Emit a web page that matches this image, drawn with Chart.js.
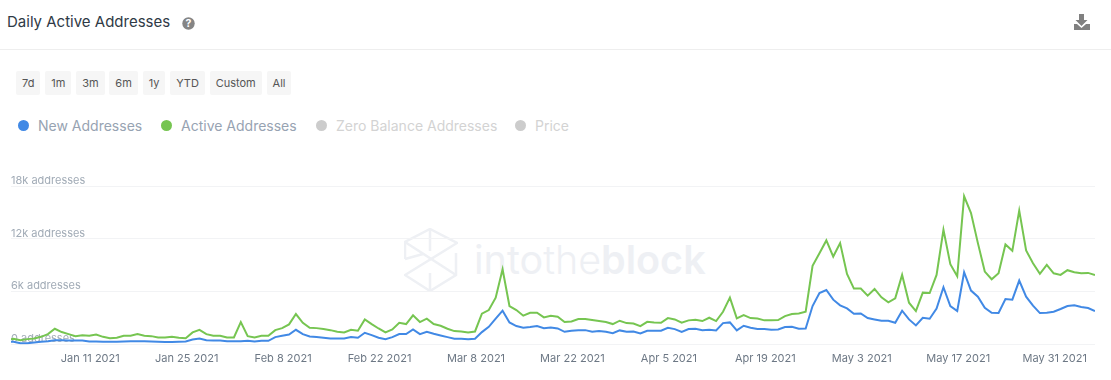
<!DOCTYPE html>
<html>
<head>
<meta charset="utf-8">
<title>Daily Active Addresses</title>
<script src="https://cdn.jsdelivr.net/npm/chart.js@4"></script>
<style>
    html, body { margin: 0; padding: 0; background: #fff; }
    body { width: 1111px; height: 380px; position: relative; overflow: hidden; font-family: Inter, sans-serif; }
    .title { position: absolute; left: 7px; top: 13px; font-size: 15px; line-height: 18px; color: #2f3a46; }
    .help { position: absolute; left: 182px; top: 17px; }
    .download { position: absolute; left: 1073px; top: 13px; }
    .divider { position: absolute; left: 0; right: 0; top: 49px; height: 1px; background: #eeeeee; }
    .ranges { position: absolute; left: 16px; top: 71px; display: flex; gap: 4.8px; }
    .ranges span { background: #f6f6f6; color: #555; font-size: 11px; line-height: 24px; height: 24px; padding: 0 6px; border-radius: 2px; }
    .legend { position: absolute; top: 116.5px; left: 0; font-size: 14px; line-height: 17px; }
    .legend span { position: absolute; white-space: nowrap; }
    .legend i { position: absolute; width: 11px; height: 11px; border-radius: 50%; top: 3px; }
    .mark { position: absolute; left: 404px; top: 228px; }
    .markText { position: absolute; left: 474px; top: 234px; font-size: 39.5px; line-height: 52px; color: #eef0f4; }
    .markText b { font-weight: 600; }
    .markText em { font-style: normal; font-weight: 300; }
    #chartBox { position: absolute; left: 0; top: 170px; width: 1111px; height: 210px; }
</style>
</head>
<body>
<div class="title">Daily Active Addresses</div>
<svg class="help" width="13" height="13" viewBox="0 0 13 13">
    <circle cx="6.5" cy="6.5" r="6.2" fill="#858585"></circle>
    <text x="6.5" y="10.2" text-anchor="middle" font-size="10.5" font-weight="700" font-family="Inter" fill="#fff">?</text>
</svg>
<svg class="download" width="18" height="18" viewBox="0 0 18 18">
    <path d="M6 1h5v6h3.5L8.5 13 2.5 7H6z" fill="#808080"></path>
    <path d="M1 11h3l4.500 4 4.500-4h4v6H1z" fill="#808080"></path>
</svg>
<div class="divider"></div>
<div class="ranges" id="ranges"></div>
<div class="legend" id="legend"></div>

<svg class="mark" width="54" height="64" viewBox="0 0 54 64" fill="none" stroke="#eef0f4" stroke-width="2.5">
    <path d="M1 31V14L26 1l27 14L1 47l25 16 26-16V25"></path>
    <path d="M1 14l51 33M26 1v22M26 45v18M1 31l18-5"></path>
</svg>
<div class="markText">into<em>the</em><b>block</b></div>

<div id="chartBox"><canvas id="addressChart"></canvas></div>

<script>
var rangeButtons = ['7d', '1m', '3m', '6m', '1y', 'YTD', 'Custom', 'All'];

var legendNames = ['New Addresses', 'Active Addresses', 'Zero Balance Addresses', 'Price'];
var legendDots = ['#4189e5', '#76c551', '#cccccc', '#cccccc'];
var legendText = ['#97a3b2', '#97a3b2', '#d3d3d3', '#d3d3d3'];
var legendLeft = [18, 161, 316, 515];

// one value per day, first entry is Dec 30 2020, last is Jun 6 2021
var newAddresses = [
    300, 300, 150, 150, 230, 300, 380, 490, 490, 460, 460, 460, 340, 340, 300, 300, 300, 340, 380, 380,
    380, 340, 300, 270, 270, 300, 340, 570, 680, 490, 460, 460, 380, 380, 380, 420, 340, 420, 420, 840,
    990, 1140, 1670, 1180, 910, 840, 760, 680, 680, 680, 840, 760, 1330, 1060, 760, 610, 840, 1180, 1180, 1710,
    1180, 1440, 1220, 1030, 840, 650, 650, 610, 650, 1410, 2010, 2930, 3840, 2510, 2090, 1900, 1980, 2090, 1860, 1940,
    1820, 1440, 1560, 1630, 1630, 1440, 1520, 1440, 1290, 1600, 1440, 1480, 1250, 1560, 1560, 1560, 1900, 1750, 1440, 1750,
    1790, 1630, 1670, 1600, 2430, 2510, 1600, 2130, 1900, 1750, 1750, 1670, 1710, 1980, 2010, 1790, 1820, 4370, 5850, 6190,
    5090, 4450, 4100, 3500, 3530, 3000, 2850, 2700, 2700, 2470, 3840, 2850, 2170, 3040, 2930, 4070, 6500, 4370, 3800, 8210,
    6120, 5430, 4180, 3610, 3570, 5170, 5090, 7260, 5430, 4410, 3570, 3610, 3720, 4030, 4370, 4450, 4260, 4140, 3800
];

var activeAddresses = [
    490, 650, 490, 610, 680, 870, 1180, 1790, 1410, 1180, 950, 1060, 990, 1140, 870, 720, 760, 990, 990, 1180,
    990, 950, 800, 800, 870, 760, 720, 1370, 1670, 1180, 990, 990, 800, 800, 2550, 950, 800, 990, 990, 1630,
    1860, 2280, 3460, 2470, 1900, 1860, 1750, 1630, 1440, 1370, 1670, 1560, 2850, 2320, 1820, 1370, 1710, 2470, 2320, 3310,
    2550, 2930, 2320, 2130, 1790, 1520, 1480, 1370, 1480, 3500, 3910, 5320, 8550, 4370, 3910, 3270, 3610, 3610, 3080, 3270,
    3150, 2550, 2620, 2890, 2890, 2770, 2660, 2550, 2320, 2700, 2430, 2390, 2090, 2580, 2510, 2470, 3000, 2850, 2470, 2740,
    2810, 2660, 3040, 2660, 3720, 5320, 2960, 3340, 3000, 2960, 2740, 2740, 2770, 3230, 3460, 3530, 3720, 8930, 10370, 11820,
    9990, 11510, 8020, 6350, 6350, 5550, 6310, 5360, 4790, 5240, 7900, 4750, 3800, 5890, 5850, 7900, 13030, 9120, 7750, 16830,
    14930, 11510, 8280, 7410, 8090, 11360, 10640, 15200, 10680, 9230, 8020, 9040, 8090, 7900, 8440, 8210, 8090, 8130, 7900
];

var tickDays = [12, 26, 40, 54, 68, 82, 96, 110, 124, 138, 152];
var tickLabels = ['Jan 11 2021', 'Jan 25 2021', 'Feb 8 2021', 'Feb 22 2021', 'Mar 8 2021', 'Mar 22 2021', 'Apr 5 2021', 'Apr 19 2021', 'May 3 2021', 'May 17 2021', 'May 31 2021'];

rangeButtons.forEach(function(name) {
    var btn = document.createElement('span');
    btn.textContent = name;
    document.getElementById('ranges').appendChild(btn);
});

legendNames.forEach(function(name, i) {
    var item = document.createElement('span');
    item.style.left = legendLeft[i] + 'px';
    item.style.paddingLeft = '20px';
    item.style.color = legendText[i];
    item.textContent = name;
    var dot = document.createElement('i');
    dot.style.left = '0';
    dot.style.background = legendDots[i];
    item.appendChild(dot);
    document.getElementById('legend').appendChild(item);
});

function toPoints(values) {
    return values.map(function(v, i) { return { x: i, y: v }; });
}

var ctx = document.getElementById('addressChart').getContext('2d');
window.addressChart = new Chart(ctx, {
    type: 'line',
    data: {
        datasets: [{
            label: legendNames[0],
            data: toPoints(newAddresses),
            borderColor: legendDots[0],
            borderWidth: 2,
            pointRadius: 0,
            tension: 0,
            order: 1
        }, {
            label: legendNames[1],
            data: toPoints(activeAddresses),
            borderColor: legendDots[1],
            borderWidth: 2,
            pointRadius: 0,
            tension: 0,
            order: 2
        }]
    },
    options: {
        responsive: true,
        maintainAspectRatio: false,
        animation: false,
        layout: { padding: { left: 11, right: 16, top: 16, bottom: 0 } },
        plugins: { legend: { display: false }, tooltip: { enabled: false } },
        scales: {
            x: {
                type: 'linear',
                min: 0.64,
                max: 158,
                afterBuildTicks: function(axis) {
                    axis.ticks = tickDays.map(function(d) { return { value: d }; });
                },
                afterFit: function(axis) { axis.height = 35.5; },
                grid: { display: false },
                border: { display: false },
                ticks: {
                    autoSkip: false,
                    maxRotation: 0,
                    padding: 0,
                    labelOffset: 1,
                    color: '#6d7885',
                    font: { family: 'Inter', size: 11 },
                    callback: function(value) { return tickLabels[tickDays.indexOf(value)]; }
                }
            },
            y: {
                min: 0,
                max: 18000,
                z: 1,
                afterFit: function(axis) { axis.width = 0; },
                grid: { color: '#f2f3f5', drawTicks: false },
                border: { display: false },
                ticks: {
                    stepSize: 6000,
                    mirror: true,
                    padding: 0,
                    labelOffset: -5.5,
                    color: '#a1abb6',
                    font: { family: 'Inter', size: 11 },
                    showLabelBackdrop: true,
                    backdropColor: 'rgba(255,255,255,0.9)',
                    backdropPadding: { top: -4, bottom: -3, left: 0, right: 0 },
                    callback: function(value) { return value === 0 ? '0 addresses' : (value / 1000) + 'k addresses'; }
                }
            }
        }
    }
});
</script>
</body>
</html>
